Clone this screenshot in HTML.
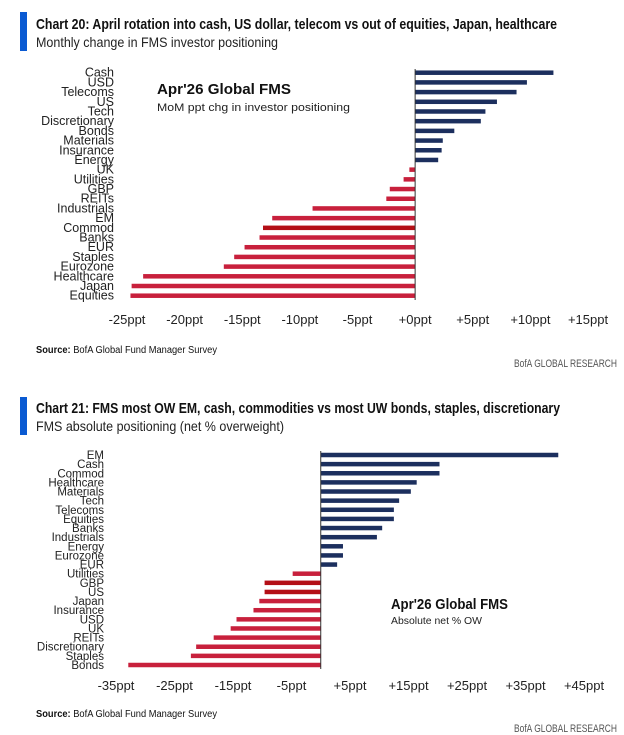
<!DOCTYPE html>
<html><head><meta charset="utf-8"><style>
html,body{margin:0;padding:0;background:#fff;}
svg{display:block;font-family:"Liberation Sans Narrow","Liberation Sans",sans-serif;}
</style></head><body>
<svg id="s" width="624" height="735" viewBox="0 0 624 735">
<rect x="20" y="12" width="7" height="39" fill="#0a5ad2"/>
<text x="36" y="29" font-size="15" font-weight="bold" fill="#111" textLength="521" lengthAdjust="spacingAndGlyphs">Chart 20: April rotation into cash, US dollar, telecom vs out of equities, Japan, healthcare</text>
<text x="36" y="47" font-size="14" fill="#222" textLength="242" lengthAdjust="spacingAndGlyphs">Monthly change in FMS investor positioning</text>
<text x="157" y="94" font-size="15" font-weight="bold" fill="#111" font-family="Liberation Sans" textLength="134" lengthAdjust="spacingAndGlyphs">Apr'26 Global FMS</text>
<text x="157" y="111" font-size="11" fill="#222" font-family="Liberation Sans" textLength="193" lengthAdjust="spacingAndGlyphs">MoM ppt chg in investor positioning</text>
<text x="36" y="353" font-size="10" fill="#111" textLength="181" lengthAdjust="spacingAndGlyphs"><tspan font-weight="bold">Source:</tspan> BofA Global Fund Manager Survey</text>
<text x="514" y="367" font-size="11" fill="#555" textLength="103" lengthAdjust="spacingAndGlyphs">BofA GLOBAL RESEARCH</text>

<rect x="20" y="397" width="7" height="38" fill="#0a5ad2"/>
<text x="36" y="413" font-size="15" font-weight="bold" fill="#111" textLength="524" lengthAdjust="spacingAndGlyphs">Chart 21: FMS most OW EM, cash, commodities vs most UW bonds, staples, discretionary</text>
<text x="36" y="431" font-size="14" fill="#222" textLength="248" lengthAdjust="spacingAndGlyphs">FMS absolute positioning (net % overweight)</text>
<text x="391" y="609" font-size="15" font-weight="bold" fill="#111" font-family="Liberation Sans" textLength="117" lengthAdjust="spacingAndGlyphs">Apr'26 Global FMS</text>
<text x="391" y="624" font-size="10" fill="#222" font-family="Liberation Sans" textLength="91" lengthAdjust="spacingAndGlyphs">Absolute net % OW</text>
<text x="36" y="717" font-size="10" fill="#111" textLength="181" lengthAdjust="spacingAndGlyphs"><tspan font-weight="bold">Source:</tspan> BofA Global Fund Manager Survey</text>
<text x="514" y="732" font-size="11" fill="#555" textLength="103" lengthAdjust="spacingAndGlyphs">BofA GLOBAL RESEARCH</text>
<g id="c1"></g><g id="c2"></g>
</svg>
<script>
const cats1=["Cash","USD","Telecoms","US","Tech","Discretionary","Bonds","Materials","Insurance","Energy","UK","Utilities","GBP","REITs","Industrials","EM","Commod","Banks","EUR","Staples","Eurozone","Healthcare","Japan","Equities"];
const vals1=[12.0,9.7,8.8,7.1,6.1,5.7,3.4,2.4,2.3,2.0,-0.5,-1.0,-2.2,-2.5,-8.9,-12.4,-13.2,-13.5,-14.8,-15.7,-16.6,-23.6,-24.6,-24.7];
const ticks1=[-25,-20,-15,-10,-5,0,5,10,15];
const hi1=["Commod"];
const cats2=["EM","Cash","Commod","Healthcare","Materials","Tech","Telecoms","Equities","Banks","Industrials","Energy","Eurozone","EUR","Utilities","GBP","US","Japan","Insurance","USD","UK","REITs","Discretionary","Staples","Bonds"];
const vals2=[40.6,20.3,20.3,16.4,15.4,13.4,12.5,12.5,10.5,9.6,3.8,3.8,2.8,-4.8,-9.6,-9.6,-10.5,-11.5,-14.4,-15.4,-18.3,-21.3,-22.2,-32.9];
const ticks2=[-35,-25,-15,-5,5,15,25,35,45];
const hi2=["GBP","US"];
const NS="http://www.w3.org/2000/svg";
function mk(g,t,a){const e=document.createElementNS(NS,t);for(const k in a)e.setAttribute(k,a[k]);g.appendChild(e);return e;}
function draw(id,cats,vals,ticks,hi,cfg){
  const g=document.getElementById(id);
  const x=v=>cfg.x0+(v-cfg.d0)/(cfg.d1-cfg.d0)*(cfg.x1-cfg.x0);
  const step=(cfg.yLast-cfg.yFirst)/(cats.length-1);
  const y=i=>cfg.yFirst+i*step;
  cats.forEach((c,i)=>{
    const v=vals[i];
    const r=mk(g,"rect",{x:Math.min(x(0),x(v)),y:y(i)-cfg.bh/2,width:Math.abs(x(v)-x(0)),height:cfg.bh,fill:v>=0?"#1c2f5e":(hi.includes(c)?"#b40f16":"#c8203c")});
    
    
    const t=mk(g,"text",{x:cfg.lx,y:y(i)+4,"text-anchor":"end","font-size":cfg.lfs,fill:"#222"});
    t.textContent=c;
    
    
  });
  const ax=mk(g,"line",{x1:x(0),x2:x(0),y1:cfg.axT,y2:cfg.axB,stroke:"#333","stroke-width":1});
  
  
  ticks.forEach(tv=>{
    const t=mk(g,"text",{x:x(tv),y:cfg.ty,"text-anchor":"middle","font-size":13,fill:"#222"});
    t.textContent=(tv>=0?"+":"")+tv+"ppt";
    
    
  });
}
draw("c1",cats1,vals1,ticks1,hi1,{x0:127,x1:588,d0:-25,d1:15,yFirst:72.7,yLast:295.7,bh:4.5,lx:114,lfs:12.5,axT:69,axB:300,ty:324});
draw("c2",cats2,vals2,ticks2,hi2,{x0:116,x1:584,d0:-35,d1:45,yFirst:455,yLast:665,bh:4.5,lx:104,lfs:11.5,axT:451,axB:669,ty:690});
</script>
</body></html>
